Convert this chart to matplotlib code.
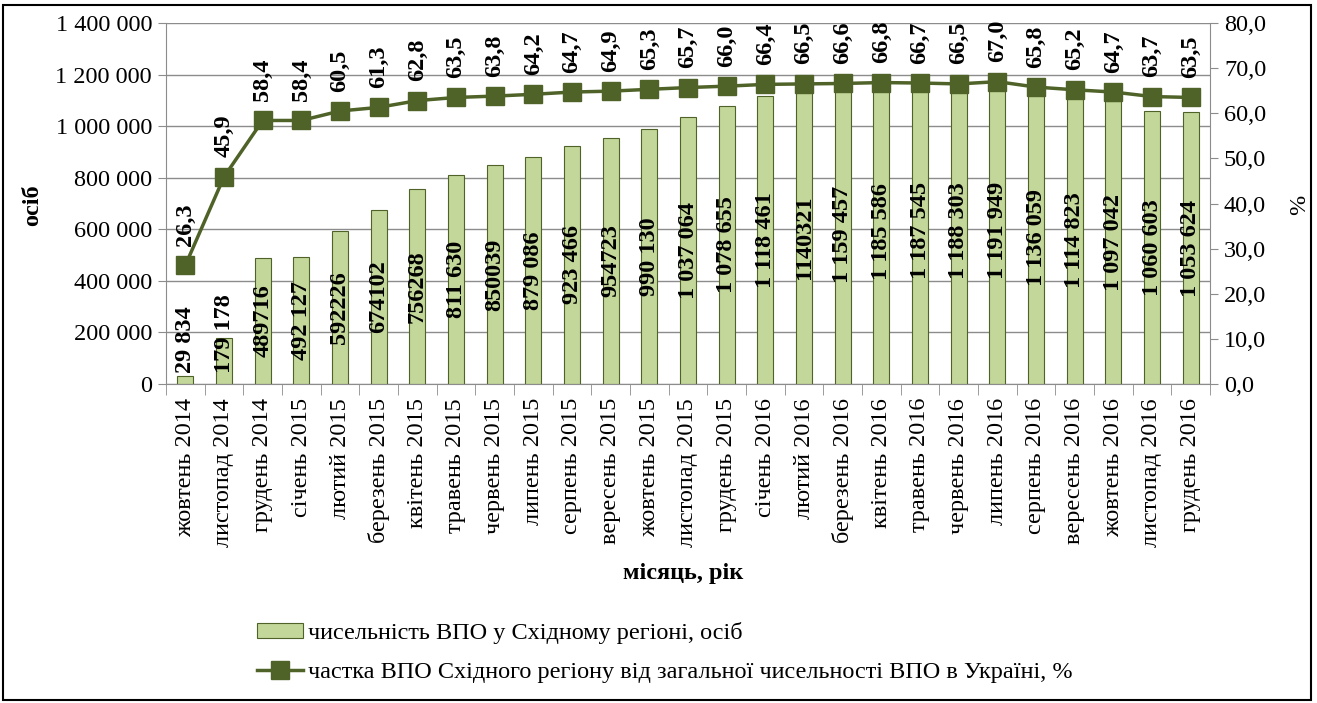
import matplotlib
matplotlib.use('Agg')
import matplotlib.pyplot as plt
import numpy as np
from matplotlib.patches import Rectangle

plt.rcParams['font.family'] = ['Liberation Serif', 'DejaVu Serif']
plt.rcParams['font.size'] = 17.5

months = ['жовтень 2014', 'листопад 2014', 'грудень 2014', 'січень 2015', 'лютий 2015',
          'березень 2015', 'квітень 2015', 'травень 2015', 'червень 2015', 'липень 2015',
          'серпень 2015', 'вересень 2015', 'жовтень 2015', 'листопад 2015', 'грудень 2015',
          'січень 2016', 'лютий 2016', 'березень 2016', 'квітень 2016', 'травень 2016',
          'червень 2016', 'липень 2016', 'серпень 2016', 'вересень 2016', 'жовтень 2016',
          'листопад 2016', 'грудень 2016']
idp_count = [29834, 179178, 489716, 492127, 592226, 674102, 756268, 811630, 850039, 879086,
             923466, 954723, 990130, 1037064, 1078655, 1118461, 1140321, 1159457, 1185586,
             1187545, 1188303, 1191949, 1136059, 1114823, 1097042, 1060603, 1053624]
count_labels = ['29 834', '179 178', '489716', '492 127', '592226', '674102', '756268',
                '811 630', '850039', '879 086', '923 466', '954723', '990 130', '1 037 064',
                '1 078 655', '1 118 461', '1140321', '1 159 457', '1 185 586', '1 187 545',
                '1 188 303', '1 191 949', '1 136 059', '1 114 823', '1 097 042', '1 060 603',
                '1 053 624']
idp_share = [26.3, 45.9, 58.4, 58.4, 60.5, 61.3, 62.8, 63.5, 63.8, 64.2, 64.7, 64.9, 65.3,
             65.7, 66.0, 66.4, 66.5, 66.6, 66.8, 66.7, 66.5, 67.0, 65.8, 65.2, 64.7, 63.7, 63.5]

bar_label = 'чисельність ВПО у Східному регіоні, осіб'
line_label = 'частка ВПО Східного регіону від загальної чисельності ВПО в Україні, %'

W, H = 1317, 703
fig = plt.figure(figsize=(W / 100, H / 100), dpi=100)
ax = fig.add_axes([166 / W, 1 - 384 / H, (1210 - 166) / W, (384 - 23) / H])

x = np.arange(len(months))
bars = ax.bar(x, idp_count, width=0.42, color='#C4D79B', edgecolor='#4F6228',
              linewidth=0.8, label=bar_label, zorder=2)
ax.set_xlim(-0.5, len(months) - 0.5)
ax.set_ylim(0, 1400000)
yt = np.arange(0, 1400001, 200000)
ax.set_yticks(yt)
ax.set_yticklabels([f'{v:,}'.replace(',', ' ') for v in yt])
ax.yaxis.grid(True, color='#8c8c8c', lw=1)
ax.set_axisbelow(True)

ax.set_xticks(x)
ax.set_xticklabels(months, rotation=90, va='top')
ax.tick_params(axis='x', which='major', length=0, pad=10)
ax.set_xticks(np.arange(-0.5, len(months)), minor=True)
ax.tick_params(axis='x', which='minor', length=8, color='#8c8c8c')
ax.tick_params(axis='y', length=6, color='#8c8c8c', pad=4)
for s in ['top', 'right']:
    ax.spines[s].set_visible(False)
ax.spines['left'].set_color('#8c8c8c')
ax.spines['bottom'].set_color('#8c8c8c')

# bar value labels
for xi, v, lab in zip(x, idp_count, count_labels):
    if v < 400000:
        ax.text(xi, 43000, lab, rotation=90, ha='center', va='bottom',
                fontweight='bold', zorder=4)
    else:
        ax.text(xi, v / 2, lab, rotation=90, ha='center', va='center',
                fontweight='bold', zorder=4)

ax2 = ax.twinx()
ax2.plot(x, idp_share, color='#4F6228', lw=2.5, marker='s', ms=13,
         label=line_label, zorder=3)
ax2.set_ylim(0, 80)
yt2 = np.arange(0, 81, 10)
ax2.set_yticks(yt2)
ax2.set_yticklabels([f'{v:.1f}'.replace('.', ',') for v in yt2])
ax2.tick_params(axis='y', length=6, color='#8c8c8c', pad=4)
for s in ['top', 'left', 'bottom']:
    ax2.spines[s].set_visible(False)
ax2.spines['right'].set_color('#8c8c8c')

for xi, p in zip(x, idp_share):
    ax2.annotate(f'{p:.1f}'.replace('.', ','), (xi, p), xytext=(0, 14),
                 textcoords='offset points', rotation=90, ha='center', va='bottom',
                 fontweight='bold')

fig.text(33 / W, 1 - 205 / H, 'осіб', rotation=90, ha='center', va='center', fontweight='bold')
fig.text(1300 / W, 1 - 205 / H, '%', rotation=90, ha='center', va='center')
fig.text(683 / W, 1 - 573 / H, 'місяць, рік', ha='center', va='center', fontweight='bold')

h1, l1 = ax.get_legend_handles_labels()
h2, l2 = ax2.get_legend_handles_labels()
fig.legend(h1 + h2, l1 + l2, loc='upper left', bbox_to_anchor=(257 / W, 1 - 622 / H),
           frameon=False, handlelength=1.9, handleheight=0.55, handletextpad=0.2,
           labelspacing=0.75, borderaxespad=0, borderpad=0)

fig.add_artist(Rectangle((3 / W, 3 / H), 1308 / W, 695 / H, transform=fig.transFigure,
                         fill=False, edgecolor='black', lw=1.5))

fig.savefig('out.png', dpi=100)
